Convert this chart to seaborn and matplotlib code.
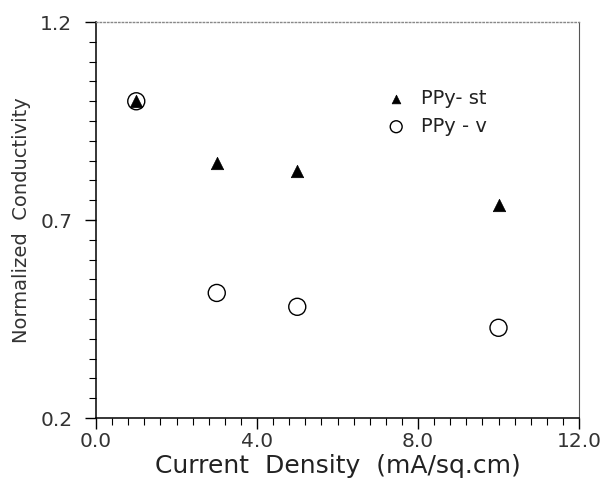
import matplotlib
matplotlib.use("Agg")
import matplotlib.pyplot as plt
import seaborn as sns
import pandas as pd
from matplotlib.ticker import FixedLocator, MultipleLocator, FormatStrFormatter

# values
current_density = [1.0, 3.0, 5.0, 10.0]
ppy_st = [1.00, 0.843, 0.825, 0.737]
ppy_v = [1.00, 0.516, 0.481, 0.428]
x_ticks = [0.0, 4.0, 8.0, 12.0]
y_ticks = [0.2, 0.7, 1.2]

df = pd.DataFrame({
    "x": current_density * 2,
    "y": ppy_st + ppy_v,
    "sample": ["PPy- st"] * 4 + ["PPy - v"] * 4,
})

sns.set_theme(style="white")
plt.rcParams["font.family"] = ["DejaVu Sans"]

fig = plt.figure(figsize=(6.02, 4.8), dpi=100)
ax = fig.add_axes([0.1595, 0.129, 0.8023, 0.825])

sns.scatterplot(data=df[df["sample"] == "PPy- st"], x="x", y="y",
                marker="^", s=80, color="black", edgecolor="black",
                linewidth=0.5, label="PPy- st", ax=ax, zorder=3)
sns.scatterplot(data=df[df["sample"] == "PPy - v"], x="x", y="y",
                marker="o", s=150, facecolor="none", edgecolor="black",
                linewidth=1.0, label="PPy - v", ax=ax, zorder=2)

ax.set_xlim(0, 12)
ax.set_ylim(0.2, 1.2)
ax.xaxis.set_major_locator(FixedLocator(x_ticks))
ax.xaxis.set_minor_locator(MultipleLocator(0.4))
ax.yaxis.set_major_locator(FixedLocator(y_ticks))
ax.yaxis.set_minor_locator(MultipleLocator(0.05))
ax.xaxis.set_major_formatter(FormatStrFormatter("%.1f"))
ax.yaxis.set_major_formatter(FormatStrFormatter("%.1f"))

ax.tick_params(which="major", direction="out", length=8, width=1,
               color="black", labelsize=14.5, labelcolor="#333333")
ax.tick_params(axis="x", which="major", pad=2)
ax.tick_params(axis="y", which="major", pad=9)
ax.tick_params(which="minor", direction="out", length=5, width=0.8,
               color="black")
ax.tick_params(bottom=True, left=True, top=False, right=False)
ax.tick_params(which="minor", bottom=True, left=True, top=False, right=False)

for side in ["left", "bottom"]:
    ax.spines[side].set_color("black")
    ax.spines[side].set_linewidth(1.1)
ax.spines["top"].set_color("#888888")
ax.spines["top"].set_linestyle(":")
ax.spines["top"].set_linewidth(1.0)
ax.spines["right"].set_color("#555555")
ax.spines["right"].set_linewidth(0.8)

ax.set_xlabel("Current  Density  (mA/sq.cm)", fontsize=18,
              color="#222222", labelpad=2)
ax.set_ylabel("Normalized  Conductivity", fontsize=14,
              color="#333333", labelpad=7)

ax.legend(loc="upper left", bbox_to_anchor=(0.545, 0.875), frameon=False,
          fontsize=14, markerscale=0.7, handletextpad=0.3,
          labelspacing=0.45, labelcolor="#222222")

fig.savefig("out.png", dpi=100)
